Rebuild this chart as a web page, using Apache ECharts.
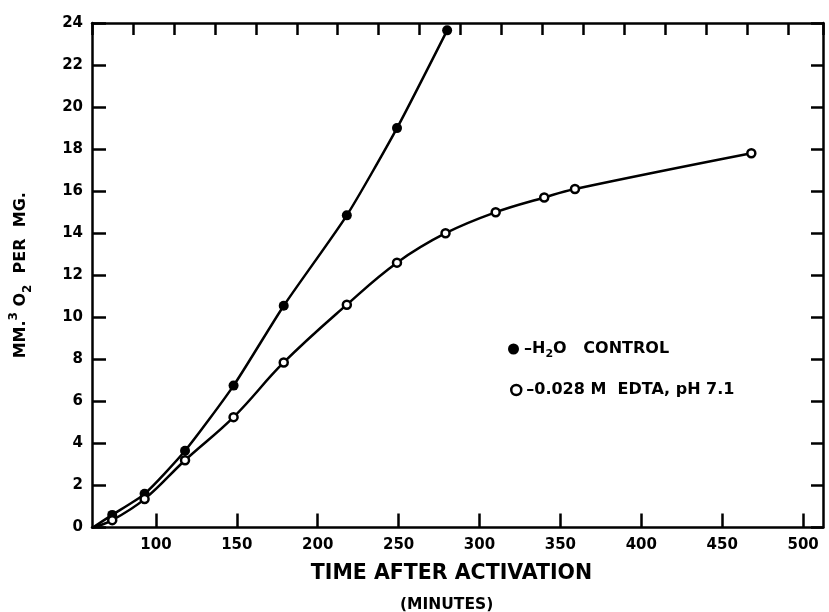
<!DOCTYPE html>
<html>
<head>
<meta charset="utf-8">
<script src="https://cdn.jsdelivr.net/npm/echarts@6/dist/echarts.min.js"></script>
<style>html,body{margin:0;padding:0;background:#fff;}#c{width:829px;height:612px;}</style>
</head>
<body>
<div id="c"></div>
<script>
// ---- data ----
const xControl = [73, 93, 118, 148, 179, 218, 249, 280];
const yControl = [0.6, 1.6, 3.65, 6.75, 10.55, 14.85, 19.0, 23.65];
const xEdta = [73, 93, 118, 148, 179, 218, 249, 279, 310, 340, 359, 468];
const yEdta = [0.35, 1.35, 3.2, 5.25, 7.85, 10.6, 12.6, 14.0, 15.0, 15.7, 16.1, 17.8];
const curveStart = [61, 0];           // both curves are drawn from the lower-left corner
const xTickValues = [100, 150, 200, 250, 300, 350, 400, 450, 500];
const yTickValues = [0, 2, 4, 6, 8, 10, 12, 14, 16, 18, 20, 22, 24];
const seriesNames = ['H2O CONTROL', '0.028 M EDTA, pH 7.1'];

const FONT = 'DejaVu Sans';
const blk = '#000';

function build(xs, ys) {
  const d = [{ value: curveStart, symbol: 'none' }];
  xs.forEach((x, i) => d.push([x, ys[i]]));
  return d;
}

const chart = echarts.init(document.getElementById('c'), null, { renderer: 'canvas' });
const axisLine = { show: true, onZero: false, lineStyle: { color: blk, width: 2.5 } };

chart.setOption({
  animation: false,
  backgroundColor: '#fff',
  grid: { left: 91, right: 6, top: 23, bottom: 84.5 },
  xAxis: [
    {
      type: 'value', position: 'bottom', min: 60.5, max: 512.3,
      axisLine: axisLine,
      axisTick: { inside: true, length: 14, lineStyle: { color: blk, width: 2.5 }, customValues: xTickValues },
      axisLabel: { customValues: xTickValues, margin: 10, color: blk, fontFamily: FONT, fontWeight: 'bold', fontSize: 15 },
      splitLine: { show: false },
      name: 'TIME AFTER ACTIVATION', nameLocation: 'middle', nameGap: 36,
      nameTextStyle: { color: blk, fontFamily: FONT, fontWeight: 'bold', fontSize: 20.5, padding: [0, 12, 0, 0] }
    },
    {
      type: 'value', position: 'top', min: 0, max: 17.85, interval: 1,
      axisLine: axisLine,
      axisTick: { inside: true, length: 12, lineStyle: { color: blk, width: 2.5 } },
      axisLabel: { show: false },
      splitLine: { show: false }
    }
  ],
  yAxis: [
    {
      type: 'value', position: 'left', min: 0, max: 24,
      axisLine: axisLine,
      axisTick: { inside: true, length: 14, lineStyle: { color: blk, width: 2.5 }, customValues: yTickValues },
      axisLabel: { customValues: yTickValues, margin: 9, color: blk, fontFamily: FONT, fontWeight: 'bold', fontSize: 15 },
      splitLine: { show: false },
      name: '{a|MM.}{sup|3}{a| O}{sub|2}{a|  PER  MG.}',
      nameLocation: 'middle', nameGap: 58, nameRotate: 90,
      nameTextStyle: {
        color: blk,
        rich: {
          a: { fontFamily: FONT, fontWeight: 'bold', fontSize: 16, color: blk, lineHeight: 26, verticalAlign: 'middle' },
          sup: { fontFamily: FONT, fontWeight: 'bold', fontSize: 12, color: blk, lineHeight: 26, verticalAlign: 'top', padding: [0, 0, 8, 0] },
          sub: { fontFamily: FONT, fontWeight: 'bold', fontSize: 12, color: blk, lineHeight: 26, verticalAlign: 'bottom', padding: [8, 0, 0, 0] }
        }
      }
    },
    {
      type: 'value', position: 'right', min: 0, max: 24,
      axisLine: axisLine,
      axisTick: { inside: true, length: 12, lineStyle: { color: blk, width: 2.5 }, customValues: yTickValues },
      axisLabel: { show: false },
      splitLine: { show: false }
    }
  ],
  legend: [
    {
      left: 503, top: 336, orient: 'vertical', icon: 'circle', itemWidth: 11, itemHeight: 11, itemGap: 4,
      data: [{ name: seriesNames[0], itemStyle: { color: blk, borderWidth: 0 } }],
      formatter: () => '{a|–H}{sub|2}{a|O   CONTROL}',
      textStyle: {
        color: blk,
        rich: {
          a: { fontFamily: FONT, fontWeight: 'bold', fontSize: 16, color: blk, lineHeight: 22 },
          sub: { fontFamily: FONT, fontWeight: 'bold', fontSize: 11, color: blk, lineHeight: 22, verticalAlign: 'bottom', padding: [6, 0, 0, 0] }
        }
      }
    },
    {
      left: 505, top: 377, orient: 'vertical', icon: 'circle', itemWidth: 10, itemHeight: 10, itemGap: 4,
      data: [{ name: seriesNames[1], itemStyle: { color: '#fff', borderColor: blk, borderWidth: 2.5 } }],
      formatter: () => '–0.028 M  EDTA, pH 7.1',
      textStyle: { color: blk, fontFamily: FONT, fontWeight: 'bold', fontSize: 16 }
    }
  ],
  graphic: [
    {
      type: 'text', left: 400, top: 597,
      style: { text: '(MINUTES)', fill: blk, font: 'bold 15.5px "DejaVu Sans"' }
    }
  ],
  series: [
    {
      name: seriesNames[0], type: 'line', xAxisIndex: 0, yAxisIndex: 0,
      data: build(xControl, yControl),
      smooth: 0.2,
      symbol: 'circle', symbolSize: 10,
      itemStyle: { color: blk },
      lineStyle: { color: blk, width: 2.5 },
      z: 3
    },
    {
      name: seriesNames[1], type: 'line', xAxisIndex: 0, yAxisIndex: 0,
      data: build(xEdta, yEdta),
      smooth: 0.4,
      symbol: 'circle', symbolSize: 8,
      itemStyle: { color: '#fff', borderColor: blk, borderWidth: 2.5 },
      lineStyle: { color: blk, width: 2.5 },
      z: 4
    }
  ]
});
</script>
</body>
</html>
